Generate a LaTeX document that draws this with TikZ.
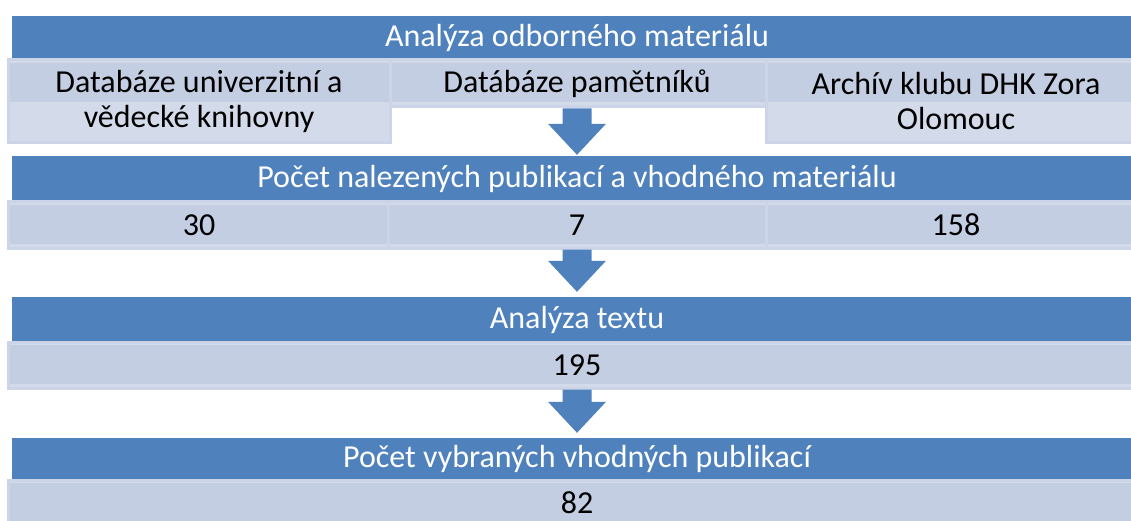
\documentclass[tikz,border=0pt]{standalone}
\usepackage{fontspec}
\setmainfont{Carlito}
\usepackage{tikz}
\usetikzlibrary{calc}

\definecolor{bannerblue}{HTML}{4F81BD}
\definecolor{boxdark}{HTML}{C3CEE2}
\definecolor{boxlight}{HTML}{D3DAEA}
\definecolor{boxline}{HTML}{CCD5E8}

% block arrow: shaft top, tip
\newcommand{\blockarrow}[2]{%
  \fill[bannerblue] ($(#1)+(-14.5,0)$) -- ($(#1)+(14.5,0)$) -- ($(#2)+(14.5,31)$) -- ($(#2)+(29,31)$)
    -- (#2) -- ($(#2)+(-29,31)$) -- ($(#2)+(-14.5,31)$) -- cycle;}

\begin{document}
\begin{tikzpicture}[x=1pt,y=1pt]
    \tikzstyle{every node}=[font=\fontsize{32}{35}\selectfont, inner sep=0pt, align=center]
    \tikzstyle{banner}=[fill=bannerblue, text=white, minimum width=1130]
    \tikzstyle{subbox}=[fill=boxlight, draw=boxline, line width=3pt, text=black,
        path picture={\fill[boxdark] ([yshift=-3pt]path picture bounding box.north west) rectangle ([yshift=-42pt]path picture bounding box.north east);}]
    \clip (0,0) rectangle (1131,520);

     \node[banner, minimum height=44] (odb) at (577,482) {Analýza odborného materiálu};
     \node[subbox, minimum width=378, minimum height=47] (pam) at (577,436.5) {Datábáze pamětníků};
     \node[subbox, minimum width=382, minimum height=83] (univ) at (199,418.5) {Databáze univerzitní a\\vědecké knihovny};
     \node[subbox, minimum width=380, minimum height=83] (zora) at (956,418.5) {Archív klubu DHK Zora\\Olomouc};

     \node[banner, minimum height=46] (nal) at (577,341) {Počet nalezených publikací a vhodného materiálu};
     \node[subbox, minimum width=382, minimum height=46] (n30) at (199,295) {30};
     \node[subbox, minimum width=378, minimum height=46] (n7) at (577,295) {7};
     \node[subbox, minimum width=380, minimum height=46] (n158) at (956,295) {158};

     \node[banner, minimum height=45] (txt) at (577,200.5) {Analýza textu};
     \node[subbox, minimum width=1138, minimum height=46] (n195) at (577,155) {195};

     \node[banner, minimum height=42] (vyb) at (577,61) {Počet vybraných vhodných publikací};
     \node[subbox, minimum width=1138, minimum height=46] (n82) at (577,17) {82};

     \blockarrow{pam.south}{$(nal.north)+(0,1)$}
     \blockarrow{n7.south}{$(txt.north)+(0,5)$}
     \blockarrow{n195.south}{$(vyb.north)+(0,5)$}
\end{tikzpicture}
\end{document}
